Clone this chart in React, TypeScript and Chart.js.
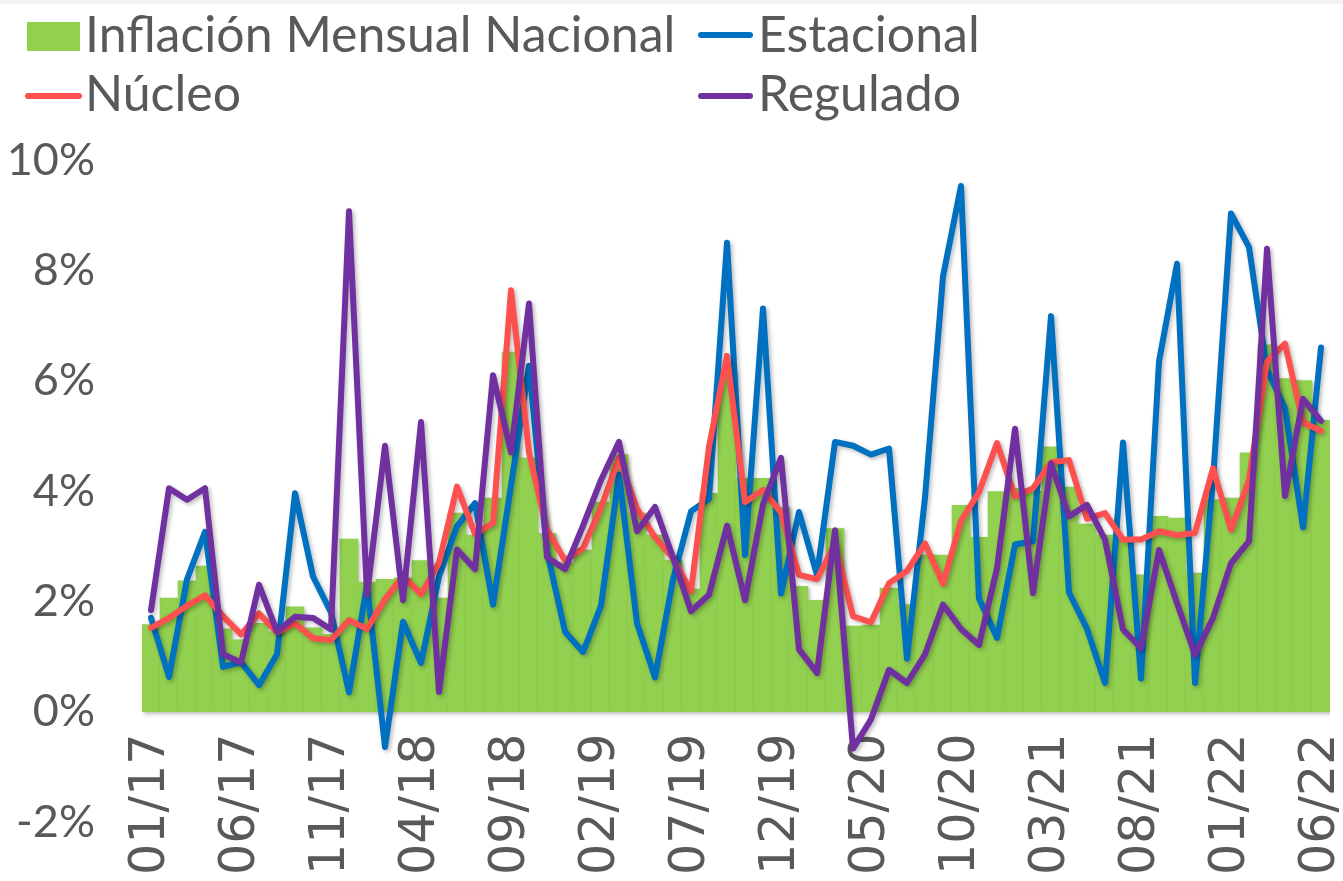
import React, { useEffect, useRef } from "react";
import { Chart, registerables } from "chart.js";

Chart.register(...registerables);

const FONT = "Lato, 'Noto Sans', sans-serif";
const XFONT = "'DejaVu Sans', Lato, sans-serif";
const TEXT_COLOR = "#595959";

const months: string[] = [
  "01/17", "02/17", "03/17", "04/17", "05/17", "06/17", "07/17", "08/17", "09/17", "10/17", "11/17", "12/17",
  "01/18", "02/18", "03/18", "04/18", "05/18", "06/18", "07/18", "08/18", "09/18", "10/18", "11/18", "12/18",
  "01/19", "02/19", "03/19", "04/19", "05/19", "06/19", "07/19", "08/19", "09/19", "10/19", "11/19", "12/19",
  "01/20", "02/20", "03/20", "04/20", "05/20", "06/20", "07/20", "08/20", "09/20", "10/20", "11/20", "12/20",
  "01/21", "02/21", "03/21", "04/21", "05/21", "06/21", "07/21", "08/21", "09/21", "10/21", "11/21", "12/21",
  "01/22", "02/22", "03/22", "04/22", "05/22", "06/22",
];

const inflacionNacional: number[] = [
  1.58, 2.06, 2.37, 2.64, 1.5, 1.3, 1.6, 1.45, 1.9, 1.52, 1.4, 3.13,
  2.35, 2.4, 2.42, 2.74, 2.06, 3.6, 3.2, 3.87, 6.52, 4.6, 3.23, 2.7,
  2.93, 3.8, 4.66, 3.6, 3.2, 2.75, 2.22, 3.96, 6.2, 4.23, 4.23, 3.7,
  2.27, 2.02, 3.32, 1.55, 1.57, 2.24, 1.94, 2.84, 2.84, 3.74, 3.16, 3.99,
  4.05, 4.0, 4.8, 4.07, 3.4, 3.2, 3.1, 2.48, 3.54, 3.51, 2.51, 3.84,
  3.87, 4.69, 6.65, 6.04, 6.0, 5.28,
];

const estacional: number[] = [
  1.7, 0.63, 2.4, 3.26, 0.81, 0.9, 0.48, 1.04, 3.96, 2.45, 1.8, 0.35,
  2.3, -0.64, 1.63, 0.88, 2.45, 3.36, 3.78, 1.94, 4.1, 6.27, 2.9, 1.45,
  1.08, 1.92, 4.3, 1.6, 0.62, 2.4, 3.63, 3.86, 8.5, 2.84, 7.31, 2.14,
  3.62, 2.48, 4.89, 4.82, 4.66, 4.77, 0.96, 3.88, 7.89, 9.53, 2.05, 1.34,
  3.03, 3.09, 7.17, 2.16, 1.5, 0.52, 4.88, 0.6, 6.35, 8.12, 0.52, 4.2,
  9.03, 8.42, 6.2, 5.5, 3.34, 6.6,
];

const nucleo: number[] = [
  1.52, 1.7, 1.92, 2.11, 1.73, 1.4, 1.78, 1.44, 1.6, 1.33, 1.3, 1.66,
  1.5, 2.04, 2.46, 2.13, 2.7, 4.08, 3.22, 3.42, 7.64, 4.7, 3.3, 2.74,
  2.96, 3.7, 4.6, 3.68, 3.16, 2.78, 2.18, 4.8, 6.45, 3.8, 4.02, 3.61,
  2.48, 2.4, 3.05, 1.73, 1.62, 2.33, 2.55, 3.05, 2.32, 3.46, 3.98, 4.87,
  3.9, 4.05, 4.52, 4.56, 3.5, 3.6, 3.12, 3.12, 3.27, 3.2, 3.24, 4.41,
  3.3, 4.2, 6.35, 6.67, 5.24, 5.09,
];

const regulado: number[] = [
  1.84, 4.05, 3.84, 4.05, 1.04, 0.89, 2.3, 1.45, 1.72, 1.7, 1.49, 9.07,
  2.12, 4.82, 2.02, 5.25, 0.36, 2.94, 2.58, 6.1, 4.7, 7.4, 2.8, 2.58,
  3.37, 4.2, 4.89, 3.27, 3.71, 2.8, 1.82, 2.12, 3.37, 2.02, 3.76, 4.6,
  1.13, 0.7, 3.29, -0.67, -0.14, 0.76, 0.52, 1.04, 1.94, 1.5, 1.21, 2.6,
  5.13, 2.15, 4.5, 3.54, 3.75, 3.12, 1.49, 1.15, 2.93, 1.97, 1.03, 1.7,
  2.69, 3.09, 8.39, 3.91, 5.67, 5.27,
];

const seriesNames = ["Inflación Mensual Nacional", "Estacional", "Núcleo", "Regulado"];
const seriesColors = ["#92D050", "#0070C0", "#FF5050", "#7030A0"];

const shadowPlugin = {
  id: "softShadow",
  beforeDatasetDraw(chart: any) {
    const c = chart.ctx;
    c.save();
    c.shadowColor = "rgba(0,0,0,0.28)";
    c.shadowBlur = 4;
    c.shadowOffsetX = 2;
    c.shadowOffsetY = 2;
  },
  afterDatasetDraw(chart: any) {
    chart.ctx.restore();
  },
};

function lineDataset(label: string, data: number[], color: string, order: number) {
  return {
    type: "line" as const,
    label,
    data,
    borderColor: color,
    backgroundColor: color,
    borderWidth: 6,
    pointRadius: 0,
    pointHoverRadius: 0,
    tension: 0,
    fill: false,
    borderJoinStyle: "round" as const,
    borderCapStyle: "round" as const,
    order,
  };
}

export default function App() {
  const canvasRef = useRef<HTMLCanvasElement | null>(null);

  useEffect(() => {
    document.body.style.margin = "0";
    const canvas = canvasRef.current;
    if (!canvas) return;
    const chart = new Chart(canvas, {
      type: "bar",
      data: {
        labels: months,
        datasets: [
          {
            type: "bar" as const,
            label: seriesNames[0],
            data: inflacionNacional,
            backgroundColor: seriesColors[0],
            borderWidth: 0,
            barPercentage: 1,
            categoryPercentage: 1,
            order: 4,
          },
          lineDataset(seriesNames[1], estacional, seriesColors[1], 3),
          lineDataset(seriesNames[2], nucleo, seriesColors[2], 2),
          lineDataset(seriesNames[3], regulado, seriesColors[3], 1),
        ] as any,
      },
      options: {
        responsive: false,
        animation: false,
        layout: { padding: { top: 160, bottom: 59, left: 0, right: 13 } },
        plugins: {
          legend: { display: false },
          tooltip: { enabled: false },
        },
        scales: {
          x: {
            type: "category",
            position: { y: 0 } as any,
            offset: true,
            grid: { display: false, drawTicks: false },
            border: { display: false },
            afterFit: (s: any) => {
              s.paddingLeft = 0;
              s.paddingRight = 0;
              s.paddingTop = 0;
              s.paddingBottom = 0;
            },
            ticks: {
              autoSkip: false,
              maxRotation: 90,
              minRotation: 90,
              padding: 22,
              color: TEXT_COLOR,
              font: { family: XFONT, size: 49 },
              callback: (_v: any, i: number) => (i % 5 === 0 ? months[i] : null),
            },
          },
          y: {
            min: -2,
            max: 10,
            grid: { display: false, drawTicks: false },
            border: { display: false },
            afterFit: (s: any) => {
              s.width = 142;
              s.paddingTop = 0;
              s.paddingBottom = 0;
            },
            ticks: {
              stepSize: 2,
              padding: 47,
              color: TEXT_COLOR,
              font: { family: FONT, size: 45 },
              callback: (v: any) => `${v}%`,
            },
          },
        },
      } as any,
      plugins: [shadowPlugin],
    });
    return () => chart.destroy();
  }, []);

  const legendText: React.CSSProperties = {
    position: "absolute",
    fontFamily: FONT,
    fontSize: 50,
    lineHeight: "50px",
    color: TEXT_COLOR,
    whiteSpace: "nowrap",
  };

  return (
    <div
      style={{
        position: "relative",
        width: 1343,
        height: 881,
        background: "#ffffff",
        overflow: "hidden",
      }}
    >
      <div style={{ position: "absolute", left: 0, top: 0, width: 1343, height: 4, background: "#f2f2f2" }} />
      <canvas ref={canvasRef} width={1343} height={881} style={{ position: "absolute", left: 0, top: 0 }} />

      <div style={{ position: "absolute", left: 27, top: 22, width: 53, height: 29, background: seriesColors[0] }} />
      <div style={{ ...legendText, left: 85, top: 8 }}>{seriesNames[0]}</div>

      <div style={{ position: "absolute", left: 698, top: 32, width: 55, height: 6, borderRadius: 3, background: seriesColors[1] }} />
      <div style={{ ...legendText, left: 758, top: 8 }}>{seriesNames[1]}</div>

      <div style={{ position: "absolute", left: 25, top: 93, width: 57, height: 6, borderRadius: 3, background: seriesColors[2] }} />
      <div style={{ ...legendText, left: 85, top: 67 }}>{seriesNames[2]}</div>

      <div style={{ position: "absolute", left: 698, top: 93, width: 55, height: 6, borderRadius: 3, background: seriesColors[3] }} />
      <div style={{ ...legendText, left: 758, top: 67 }}>{seriesNames[3]}</div>
    </div>
  );
}
